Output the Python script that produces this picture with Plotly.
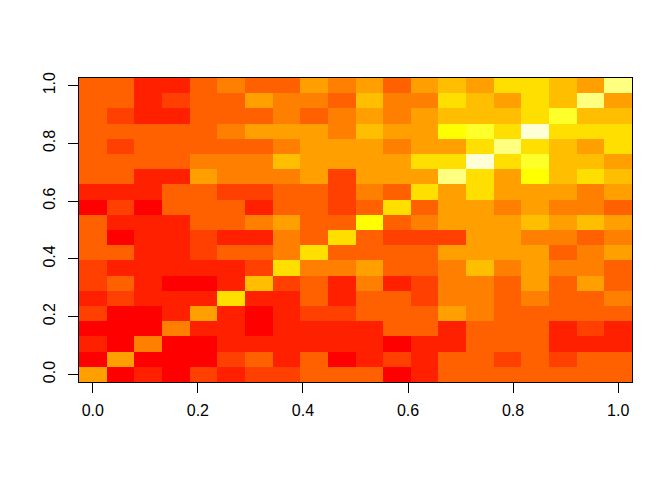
import plotly.graph_objects as go

# Cell levels, first row = top of the chart (y = 1.0)
levels_top_down = [
    [3,3,1,1,3,4,3,3,5,4,5,3,5,6,5,7,7,6,5,10],
    [3,3,1,2,3,3,5,4,4,3,6,4,4,7,6,5,7,6,10,5],
    [3,2,1,1,3,3,3,4,3,4,5,4,5,6,6,6,7,9,6,6],
    [3,3,3,3,3,4,5,5,5,4,6,5,5,8,9,7,11,7,7,7],
    [3,2,3,3,3,3,3,4,5,5,5,4,5,5,7,10,7,6,5,7],
    [3,3,3,3,4,4,4,6,5,5,5,5,7,7,11,7,9,6,6,5],
    [3,3,1,1,5,4,4,4,5,2,5,5,5,10,7,5,8,6,7,6],
    [1,1,1,3,3,2,2,3,3,2,4,3,7,5,7,5,5,5,4,5],
    [0,2,0,3,3,3,1,3,3,2,3,7,3,5,5,4,5,4,4,3],
    [3,1,1,1,3,3,4,5,3,3,8,3,4,5,5,5,6,5,6,5],
    [3,0,1,1,2,1,1,4,3,7,3,2,2,2,5,5,4,4,3,4],
    [3,3,1,1,2,3,3,4,7,3,3,3,3,5,5,5,5,3,4,5],
    [2,1,1,1,1,1,2,7,4,4,5,3,3,4,6,4,5,4,4,3],
    [2,3,1,0,0,1,6,2,3,1,4,1,2,4,4,3,5,3,5,3],
    [1,2,1,1,1,7,1,1,3,1,3,3,2,4,4,3,4,3,3,4],
    [2,0,0,1,5,1,0,1,2,2,3,3,3,5,4,3,3,3,3,3],
    [0,0,0,4,1,1,0,1,1,1,1,3,3,1,3,3,3,1,2,1],
    [1,0,4,0,0,1,1,1,1,1,1,0,1,1,3,3,3,1,1,1],
    [0,5,0,0,0,2,3,1,3,0,1,2,1,3,3,2,3,2,3,3],
    [5,0,1,0,2,1,2,2,3,3,3,0,1,3,3,3,3,3,3,3],
]
palette = ["#FF0000","#FF2000","#FF4000","#FF6000","#FF8000","#FF9F00",
           "#FFBF00","#FFDF00","#FFFF00","#FFFF2A","#FFFF80","#FFFFD5"]
x_centers = [i / 19 for i in range(20)]
y_centers = [i / 19 for i in range(20)]
tick_vals = [0.0, 0.2, 0.4, 0.6, 0.8, 1.0]
tick_text = ["0.0", "0.2", "0.4", "0.6", "0.8", "1.0"]

colorscale = [[i / 11, c] for i, c in enumerate(palette)]
half = 1 / 38

fig = go.Figure(go.Heatmap(
    z=levels_top_down[::-1], x=x_centers, y=y_centers,
    zmin=0, zmax=11, colorscale=colorscale, showscale=False, hoverinfo="skip",
))
axis = dict(
    range=[-half, 1 + half], tickmode="array", tickvals=tick_vals, ticktext=tick_text,
    ticks="outside", ticklen=10, tickwidth=1, tickcolor="#000000",
    showline=True, linecolor="#000000", linewidth=1, mirror=True,
    showgrid=False, zeroline=False, automargin=False,
    tickfont=dict(family="Liberation Sans", size=16, color="#000000"),
)
fig.update_layout(
    width=672, height=480, autosize=False,
    margin=dict(l=79, r=40, t=78, b=98, pad=0),
    paper_bgcolor="#FFFFFF", plot_bgcolor="#FFFFFF",
    xaxis=dict(**axis, ticklabelstandoff=4),
    yaxis=dict(**axis, tickangle=-90, ticklabelstandoff=7),
)
fig.write_html("out.html", config={"displayModeBar": False},
               post_script="document.body.style.margin='0';document.body.style.overflow='hidden';")
